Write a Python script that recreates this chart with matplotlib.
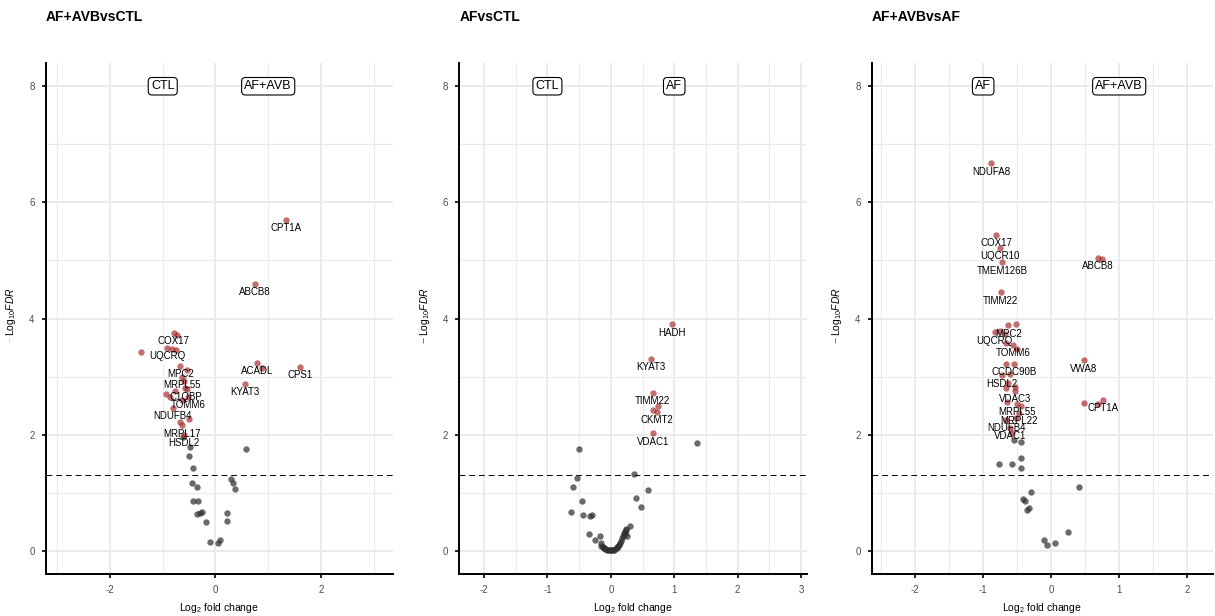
import numpy as np
import matplotlib.pyplot as plt
from matplotlib.ticker import MultipleLocator

plt.rcParams['font.family'] = ['Liberation Sans', 'DejaVu Sans']
plt.rcParams['mathtext.fontset'] = 'custom'
plt.rcParams['mathtext.rm'] = 'Liberation Sans'
plt.rcParams['mathtext.it'] = 'Liberation Sans:italic'
plt.rcParams['mathtext.bf'] = 'Liberation Sans:bold'
plt.rcParams['axes.unicode_minus'] = False

fdr_cutoff = 0.05

# ---- AF+AVB vs CTL ----
p1_title = "AF+AVBvsCTL"
p1_groups = ["CTL", "AF+AVB"]
p1_lab_genes = ["CPT1A", "ABCB8", "COX17", "UQCRQ", "MPC2", "MRPL55", "C1QBP",
                "TOMM6", "NDUFB4", "MRPL17", "HSDL2", "ACADL", "CPS1", "KYAT3"]
p1_lab_lfc = [1.33, 0.75, -0.79, -0.92, -0.67, -0.63, -0.57,
              -0.52, -0.81, -0.63, -0.60, 0.79, 1.60, 0.56]
p1_lab_nlfdr = [5.70, 4.60, 3.75, 3.49, 3.19, 3.00, 2.80,
                2.65, 2.46, 2.16, 2.00, 3.24, 3.17, 2.88]
p1_sig_lfc = [-0.73, -1.41, -0.82, -0.75, -0.54, -0.60, -0.54, -0.77, -0.93,
              -0.86, -0.63, -0.51, -0.68, 0.89]
p1_sig_nlfdr = [3.71, 3.42, 3.48, 3.45, 3.11, 2.92, 2.79, 2.75, 2.70,
                2.65, 2.60, 2.27, 2.21, 3.15]
p1_ns_lfc = [-0.61, -0.49, -0.51, -0.43, -0.44, -0.35, -0.42, -0.33, -0.35, -0.29,
             -0.26, -0.18, -0.11, 0.05, 0.08, 0.22, 0.21, 0.30, 0.33, 0.37, 0.57]
p1_ns_nlfdr = [1.96, 1.78, 1.64, 1.43, 1.16, 1.10, 0.86, 0.85, 0.63, 0.65,
               0.66, 0.49, 0.15, 0.13, 0.18, 0.65, 0.52, 1.24, 1.16, 1.07, 1.75]

# ---- AF vs CTL ----
p2_title = "AFvsCTL"
p2_groups = ["CTL", "AF"]
p2_lab_genes = ["HADH", "KYAT3", "TIMM22", "CKMT2", "VDAC1"]
p2_lab_lfc = [0.97, 0.63, 0.66, 0.73, 0.67]
p2_lab_nlfdr = [3.90, 3.31, 2.72, 2.39, 2.02]
p2_sig_lfc = [0.74, 0.67]
p2_sig_nlfdr = [2.50, 2.43]
p2_ns_lfc = [1.36, -0.50, -0.53, -0.59, -0.45, -0.63, -0.44, -0.33, -0.29, -0.34,
             -0.25, -0.17, 0.37, 0.59, 0.40, 0.47, 0.30, 0.24, 0.22, 0.25,
             -0.15, -0.16, -0.13, -0.105, -0.08, -0.055, -0.02, 0.01, 0.05, 0.07,
             0.105, 0.13, 0.16, 0.18, 0.21, 0.24, -0.12, -0.09, -0.04, 0.0,
             0.03, 0.09, 0.12, 0.15, 0.19, 0.22]
p2_ns_nlfdr = [1.86, 1.76, 1.26, 1.10, 0.85, 0.67, 0.61, 0.60, 0.62, 0.29,
               0.19, 0.26, 1.32, 1.04, 0.91, 0.75, 0.43, 0.36, 0.33, 0.26,
               0.13, 0.09, 0.06, 0.04, 0.025, 0.015, 0.01, 0.01, 0.015, 0.03,
               0.06, 0.10, 0.16, 0.22, 0.30, 0.37, 0.07, 0.03, 0.01, 0.005,
               0.01, 0.05, 0.08, 0.13, 0.25, 0.29]

# ---- AF+AVB vs AF ----
p3_title = "AF+AVBvsAF"
p3_groups = ["AF", "AF+AVB"]
p3_lab_genes = ["NDUFA8", "COX17", "UQCR10", "TMEM126B", "TIMM22", "ABCB8", "MPC2",
                "UQCRQ", "TOMM6", "CCDC90B", "HSDL2", "VDAC3", "MRPL55", "MRPL22",
                "NDUFB4", "VDAC1", "VWA8", "CPT1A"]
p3_lab_lfc = [-0.88, -0.81, -0.75, -0.72, -0.74, 0.69, -0.63,
              -0.83, -0.56, -0.55, -0.73, -0.53, -0.50, -0.48,
              -0.66, -0.60, 0.48, 0.76]
p3_lab_nlfdr = [6.67, 5.44, 5.22, 4.97, 4.45, 5.05, 3.88,
                3.76, 3.55, 3.22, 3.02, 2.75, 2.53, 2.37,
                2.25, 2.12, 3.28, 2.60]
p3_sig_lfc = [0.74, -0.52, -0.75, -0.68, -0.67, -0.50, -0.67, -0.60, -0.64,
              -0.53, -0.66, -0.65, -0.44, -0.52, -0.57, 0.48, 0.69]
p3_sig_nlfdr = [5.02, 3.91, 3.78, 3.74, 3.58, 3.47, 3.21, 3.05, 2.89,
                2.82, 2.80, 2.57, 2.50, 2.29, 2.03, 2.55, 2.53]
p3_ns_lfc = [-0.55, -0.44, -0.45, -0.77, -0.57, -0.45, -0.29, -0.42, -0.39, -0.32,
             -0.35, 0.41, 0.24, -0.11, -0.06, 0.06]
p3_ns_nlfdr = [1.91, 1.87, 1.59, 1.49, 1.49, 1.43, 1.02, 0.90, 0.86, 0.74,
               0.70, 1.09, 0.32, 0.19, 0.10, 0.13]

panels = [
    dict(title=p1_title, groups=p1_groups, lab=(p1_lab_genes, p1_lab_lfc, p1_lab_nlfdr),
         sig=(p1_sig_lfc, p1_sig_nlfdr), ns=(p1_ns_lfc, p1_ns_nlfdr),
         rect=[0.0376, 0.0682, 0.286, 0.8295], xlim=(-3.22, 3.37), major=2, minor=1,
         minus_color='#bfe3e3'),
    dict(title=p2_title, groups=p2_groups, lab=(p2_lab_genes, p2_lab_lfc, p2_lab_nlfdr),
         sig=(p2_sig_lfc, p2_sig_nlfdr), ns=(p2_ns_lfc, p2_ns_nlfdr),
         rect=[0.378, 0.0682, 0.286, 0.8295], xlim=(-2.39, 3.09), major=1, minor=0.5,
         minus_color='#b22222'),
    dict(title=p3_title, groups=p3_groups, lab=(p3_lab_genes, p3_lab_lfc, p3_lab_nlfdr),
         sig=(p3_sig_lfc, p3_sig_nlfdr), ns=(p3_ns_lfc, p3_ns_nlfdr),
         rect=[0.7174, 0.0682, 0.281, 0.8295], xlim=(-2.64, 2.38), major=1, minor=0.5,
         minus_color='#555555'),
]

red = '#a52a2a'
grey = '#303030'
dot = 21

fig = plt.figure(figsize=(12.15, 6.16), dpi=100)

for p in panels:
    ax = fig.add_axes(p['rect'])
    ax.set_xlim(*p['xlim'])
    ax.set_ylim(-0.4, 8.4)
    ax.xaxis.set_major_locator(MultipleLocator(p['major']))
    ax.xaxis.set_minor_locator(MultipleLocator(p['minor']))
    ax.yaxis.set_major_locator(MultipleLocator(2))
    ax.yaxis.set_minor_locator(MultipleLocator(1))
    ax.grid(which='major', color='#ebebeb', lw=1.4)
    ax.grid(which='minor', color='#ebebeb', lw=0.8)
    ax.set_axisbelow(True)
    for s in ['top', 'right']:
        ax.spines[s].set_visible(False)
    for s in ['left', 'bottom']:
        ax.spines[s].set_linewidth(1.4)
        ax.spines[s].set_color('black')
    ax.tick_params(which='major', length=3, width=1.2, color='black',
                   labelsize=7, labelcolor='#4d4d4d', pad=5)
    ax.tick_params(which='minor', length=0)

    ax.scatter(*p['ns'], s=dot, color=grey, alpha=0.72, linewidths=0, zorder=3)
    ax.scatter(*p['sig'], s=dot, color=red, alpha=0.68, linewidths=0, zorder=3)
    genes, lx, ly = p['lab']
    ax.scatter(lx, ly, s=dot, color=red, alpha=0.68, linewidths=0, zorder=3)
    for g, x, y in zip(genes, lx, ly):
        ax.annotate(g, (x, y), xytext=(0, -6), textcoords='offset points',
                    ha='center', va='center', fontsize=7, zorder=4)

    ax.axhline(-np.log10(fdr_cutoff), color='black', lw=0.7, ls=(0, (6, 4)), zorder=2)

    for gx, g in zip([-1, 1], p['groups']):
        ax.text(gx, 8, g, ha='center', va='center', fontsize=9, zorder=5,
                bbox=dict(boxstyle='round,pad=0.22,rounding_size=0.3',
                          fc='white', ec='black', lw=0.8))

    ax.annotate(p['title'], (0, 1), xycoords='axes fraction', xytext=(0, 33),
                textcoords='offset points', ha='left', va='center',
                fontsize=10, fontweight='bold')
    ax.annotate(r'Log$_2$ fold change', (0.5, 0), xycoords='axes fraction',
                xytext=(0, -24.5), textcoords='offset points', ha='center',
                va='center', fontsize=7.5)
    ax.annotate(r'Log$_{10}$$\mathit{FDR}$', (0, 0.465), xycoords='axes fraction',
                xytext=(-25, 0), textcoords='offset points', ha='center',
                va='bottom', rotation=90, fontsize=7.5)
    ax.annotate('\u2212', (0, 0.465), xycoords='axes fraction',
                xytext=(-25, -0.5), textcoords='offset points', ha='center',
                va='top', rotation=90, fontsize=7.5, color=p['minus_color'])

fig.savefig('out.png', dpi=100)
